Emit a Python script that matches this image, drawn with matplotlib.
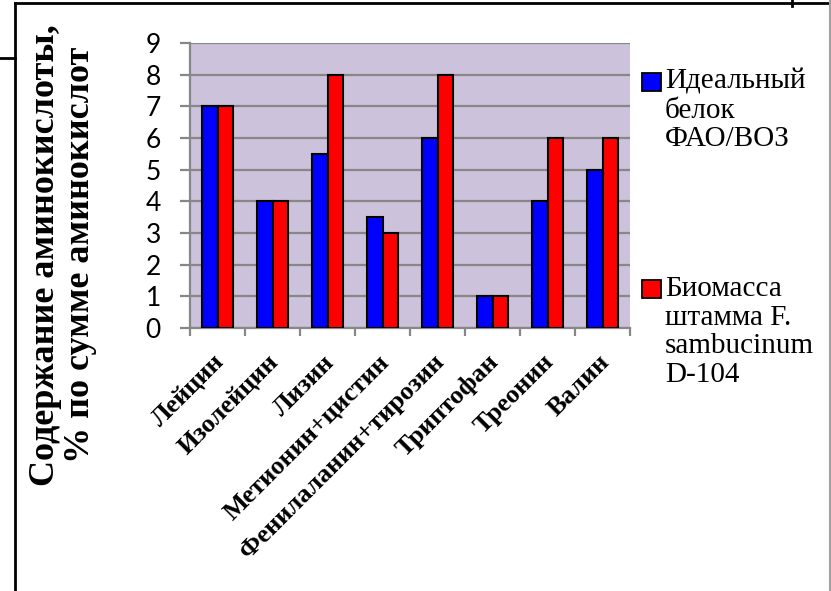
import matplotlib.pyplot as plt
import matplotlib.transforms as mtransforms
from matplotlib import font_manager as fm
from matplotlib.patches import Rectangle
from matplotlib.lines import Line2D
import numpy as np

serif_reg = fm.findfont(fm.FontProperties(family='Liberation Serif'))
serif_bold = fm.findfont(fm.FontProperties(family='Liberation Serif', weight='bold'))
sans_reg = fm.findfont(fm.FontProperties(family='Lato'))

amino = ['Лейцин', 'Изолейцин', 'Лизин', 'Метионин+цистин',
         'Фенилаланин+тирозин', 'Триптофан', 'Треонин', 'Валин']
ideal = [7, 4, 5.5, 3.5, 6, 1, 4, 5]
biomass = [7, 4, 8, 3, 8, 1, 6, 6]
series_names = ['Идеальный\nбелок\nФАО/ВОЗ',
                'Биомасса\nштамма F.\nsambucinum\nD-104']
series_colors = ['#0000FF', '#FF0000']
yticks = list(range(0, 10))

W, H = 831, 591
fig = plt.figure(figsize=(W / 100, H / 100), dpi=100)
fig.patch.set_facecolor('white')

# plot area in pixel coordinates
x0, x1, ytop, ybot = 190, 630, 43, 328
ax = fig.add_axes([x0 / W, 1 - ybot / H, (x1 - x0) / W, (ybot - ytop) / H])
ax.set_facecolor('#CCC2DB')

x = np.arange(len(amino))
bw = 0.29
for k, vals in enumerate([ideal, biomass]):
    ax.bar(x + (k - 0.5) * bw, vals, bw, color=series_colors[k],
           edgecolor='black', linewidth=1.5, zorder=3)

ax.set_xlim(-0.5, len(amino) - 0.5)
ax.set_ylim(0, 9)
ax.set_yticks(yticks)
ax.yaxis.grid(True, color='#878787', linewidth=1.6, zorder=1)
ax.set_axisbelow(True)
for s in ['top', 'right']:
    ax.spines[s].set_visible(False)
for s in ['left', 'bottom']:
    ax.spines[s].set_color('#878787')
    ax.spines[s].set_linewidth(1.6)

ax.tick_params(axis='y', length=7, width=1.6, color='#878787', pad=14)
for lab in ax.get_yticklabels():
    lab.set_fontproperties(fm.FontProperties(fname=sans_reg, size=19))

# boundary ticks between categories, labels at centres
ax.set_xticks(x)
ax.set_xticklabels(amino, rotation=45, ha='right', va='center',
                   rotation_mode='anchor',
                   fontproperties=fm.FontProperties(fname=serif_bold, size=19))
ax.tick_params(axis='x', which='major', length=0, pad=22)
ax.set_xticks(np.arange(len(amino) + 1) - 0.5, minor=True)
ax.tick_params(axis='x', which='minor', length=6, width=1.6, color='#878787')
shift = mtransforms.ScaledTranslation(0.03, 0, fig.dpi_scale_trans)
for lab in ax.get_xticklabels():
    lab.set_transform(lab.get_transform() + shift)

# axis title
fig.text(63 / W, 1 - 255 / H,
         'Содержание аминокислоты,\n% по сумме аминокислот',
         rotation=90, ha='center', va='center', multialignment='center',
         fontproperties=fm.FontProperties(fname=serif_bold, size=26),
         linespacing=1.07)

# legend
leg_tops = [73, 280]
for k, name in enumerate(series_names):
    t = leg_tops[k]
    fig.patches.append(Rectangle((642 / W, 1 - (t + 18) / H), 19 / W, 18 / H,
                                 transform=fig.transFigure,
                                 facecolor=series_colors[k],
                                 edgecolor='black', linewidth=1.3))
    fig.text(665 / W, 1 - (t - 4) / H, name, ha='left', va='top',
             fontproperties=fm.FontProperties(fname=serif_reg, size=21),
             linespacing=1.13)

# frame lines around the figure
def px_line(xs, ys, color='black', lw=2):
    fig.lines.append(Line2D([v / W for v in xs], [1 - v / H for v in ys],
                            transform=fig.transFigure, color=color,
                            linewidth=lw))

px_line([15, 831], [3, 3])
px_line([15, 15], [3, 591])
px_line([0, 15], [58, 58])
px_line([792, 792], [0, 6])
px_line([830, 830], [0, 591], color='#A0A0A0', lw=1.5)

fig.savefig('out.png', dpi=100)
